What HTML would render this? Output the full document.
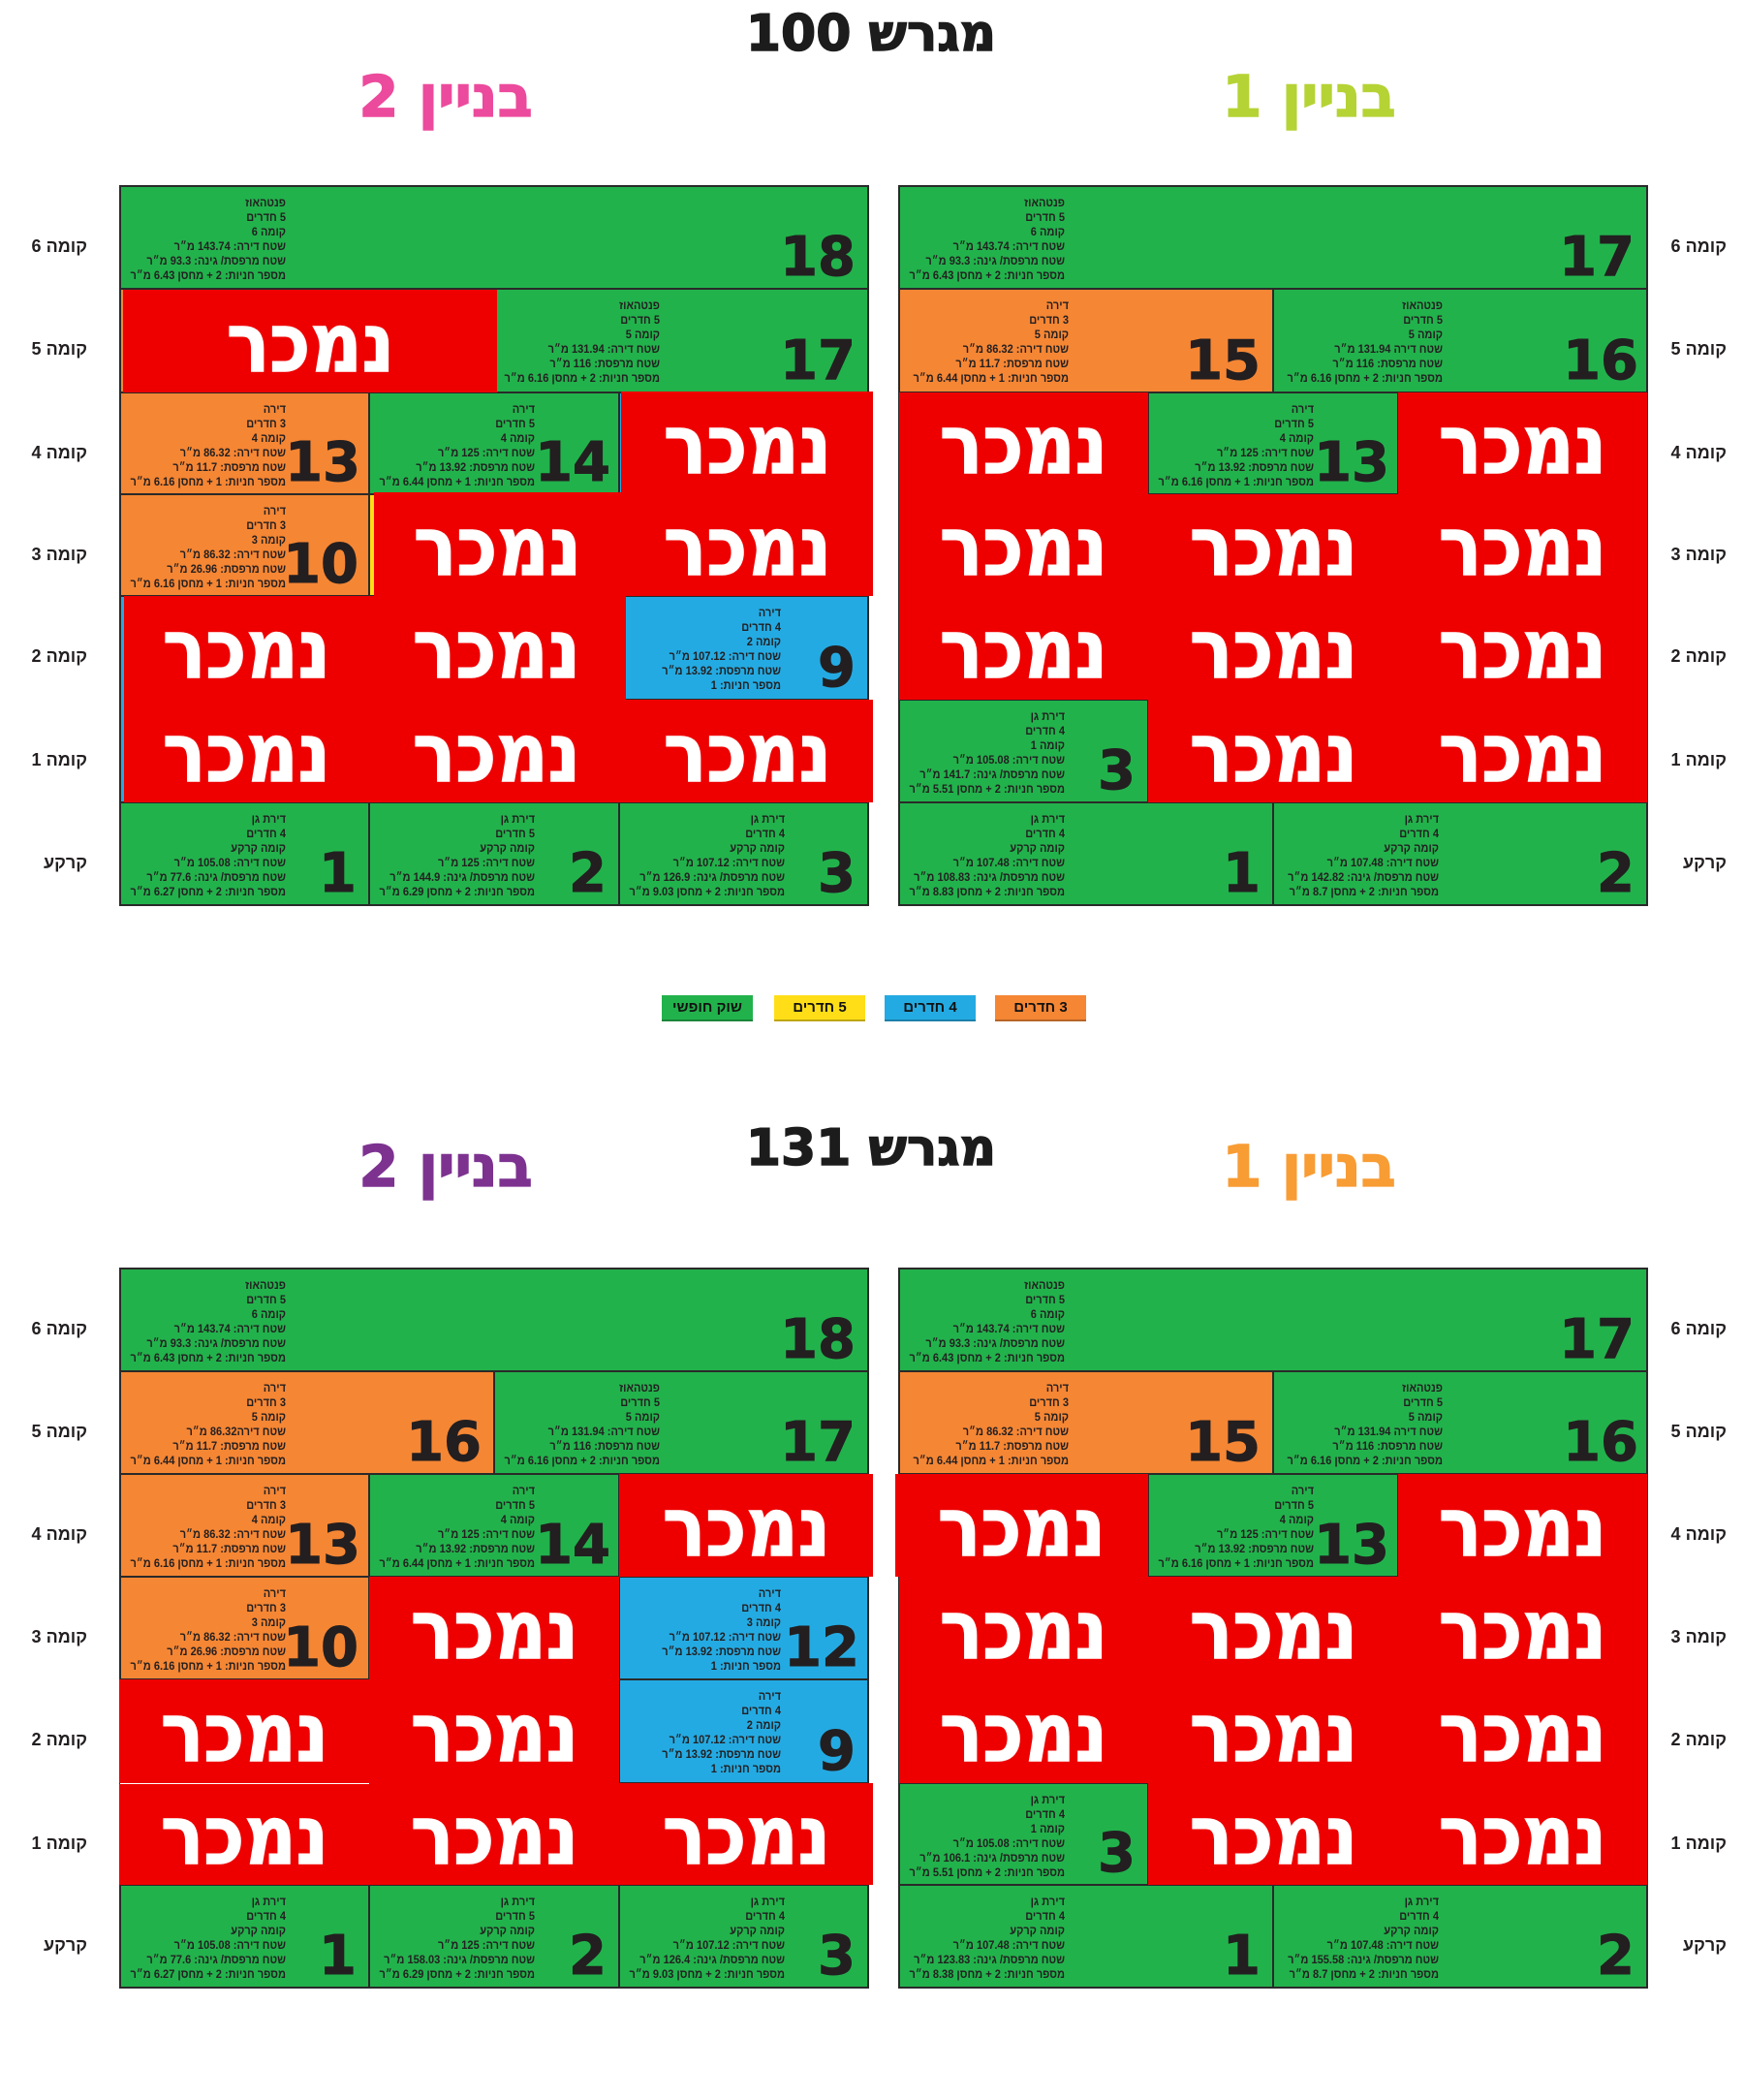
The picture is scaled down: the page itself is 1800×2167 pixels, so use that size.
<!DOCTYPE html>
<html lang="he">
<head>
<meta charset="utf-8">
<style>
html,body{margin:0;padding:0;background:#fff;}
body{width:1800px;height:2167px;position:relative;overflow:hidden;font-family:"Liberation Sans","DejaVu Sans",sans-serif;}
.c{position:absolute;box-sizing:border-box;border:1px solid #2a2a2a;}
.g{background:#22b24c}.o{background:#f58634}.b{background:#24aae2}.y{background:#ffde17}
.r{position:absolute;background:#ee0000;}
.fr{position:absolute;box-sizing:border-box;border:1px solid #2a2a2a;}
.t{position:absolute;top:9px;left:0;width:170px;text-align:right;direction:rtl;font:bold 12px/15px "Liberation Sans","DejaVu Sans",sans-serif;color:#231f20;white-space:nowrap;transform:scaleX(0.92);transform-origin:right top;}
.n{position:absolute;right:12px;bottom:3px;font:bold 56px/1 "DejaVu Sans",sans-serif;color:#231f20;-webkit-text-stroke:1px #231f20;}
.st{position:absolute;display:flex;align-items:center;justify-content:center;color:#fff;direction:rtl;padding-top:3px;box-sizing:border-box;}
.st span{display:inline-block;font:bold 84px/1 "DejaVu Sans",sans-serif;transform:scaleX(0.88);-webkit-text-stroke:1.5px #fff;}
.lb{position:absolute;width:80px;height:24px;line-height:24px;text-align:right;direction:rtl;font:bold 18px "Liberation Sans","DejaVu Sans",sans-serif;color:#231f20;white-space:nowrap;}
.h{position:absolute;text-align:center;direction:rtl;font-family:"DejaVu Sans",sans-serif;font-weight:bold;line-height:1;white-space:nowrap;}
.lg{position:absolute;top:1027px;width:94px;height:27px;box-sizing:border-box;border-bottom:2px solid rgba(0,0,0,0.25);text-align:center;direction:rtl;font:bold 15px/26px "Liberation Sans","DejaVu Sans",sans-serif;color:#111;}
</style>
</head>
<body>

<!-- Titles -->
<div class="h" style="left:599px;width:600px;top:9px;font-size:52px;color:#1c1c1c;-webkit-text-stroke:1.5px #1c1c1c;">מגרש 100</div>
<div class="h" style="left:260px;width:400px;top:70px;font-size:59px;color:#ec4a9c;-webkit-text-stroke:1.5px #ec4a9c;">בניין 2</div>
<div class="h" style="left:1151px;width:400px;top:70px;font-size:59px;color:#b5d334;-webkit-text-stroke:1.5px #b5d334;">בניין 1</div>

<div class="h" style="left:599px;width:600px;top:1159px;font-size:52px;color:#1c1c1c;-webkit-text-stroke:1.5px #1c1c1c;">מגרש 131</div>
<div class="h" style="left:260px;width:400px;top:1174px;font-size:59px;color:#7d3290;-webkit-text-stroke:1.5px #7d3290;">בניין 2</div>
<div class="h" style="left:1151px;width:400px;top:1174px;font-size:59px;color:#f89c34;-webkit-text-stroke:1.5px #f89c34;">בניין 1</div>

<!-- Floor labels top -->
<div class="lb" style="left:10px;top:244px">קומה 6</div>
<div class="lb" style="left:10px;top:350px">קומה 5</div>
<div class="lb" style="left:10px;top:457px">קומה 4</div>
<div class="lb" style="left:10px;top:562px">קומה 3</div>
<div class="lb" style="left:10px;top:667px">קומה 2</div>
<div class="lb" style="left:10px;top:774px">קומה 1</div>
<div class="lb" style="left:10px;top:880px">קרקע</div>
<div class="lb" style="left:1702px;top:244px">קומה 6</div>
<div class="lb" style="left:1702px;top:350px">קומה 5</div>
<div class="lb" style="left:1702px;top:457px">קומה 4</div>
<div class="lb" style="left:1702px;top:562px">קומה 3</div>
<div class="lb" style="left:1702px;top:667px">קומה 2</div>
<div class="lb" style="left:1702px;top:774px">קומה 1</div>
<div class="lb" style="left:1702px;top:880px">קרקע</div>

<!-- Floor labels bottom -->
<div class="lb" style="left:10px;top:1361px">קומה 6</div>
<div class="lb" style="left:10px;top:1467px">קומה 5</div>
<div class="lb" style="left:10px;top:1573px">קומה 4</div>
<div class="lb" style="left:10px;top:1679px">קומה 3</div>
<div class="lb" style="left:10px;top:1785px">קומה 2</div>
<div class="lb" style="left:10px;top:1892px">קומה 1</div>
<div class="lb" style="left:10px;top:1997px">קרקע</div>
<div class="lb" style="left:1702px;top:1361px">קומה 6</div>
<div class="lb" style="left:1702px;top:1467px">קומה 5</div>
<div class="lb" style="left:1702px;top:1573px">קומה 4</div>
<div class="lb" style="left:1702px;top:1679px">קומה 3</div>
<div class="lb" style="left:1702px;top:1785px">קומה 2</div>
<div class="lb" style="left:1702px;top:1892px">קומה 1</div>
<div class="lb" style="left:1702px;top:1997px">קרקע</div>

<!-- Legend -->
<div class="lg g" style="left:683px">שוק חופשי</div>
<div class="lg y" style="left:799px">5 חדרים</div>
<div class="lg b" style="left:913px">4 חדרים</div>
<div class="lg o" style="left:1027px">3 חדרים</div>

<!-- ===== GRID A: plot 100, building 2 ===== -->
<div class="c g" style="left:124px;top:192px;width:772px;height:106px"><div class="t">פנטהאוז<br>5 חדרים<br>קומה 6<br>שטח דירה: 143.74 מ״ר<br>שטח מרפסת/ גינה: 93.3 מ״ר<br>מספר חניות: 2 + מחסן 6.43 מ״ר</div><div class="n">18</div></div>
<div class="c o" style="left:124px;top:298px;width:386px;height:107px"></div>
<div class="c g" style="left:510px;top:298px;width:386px;height:107px"><div class="t">פנטהאוז<br>5 חדרים<br>קומה 5<br>שטח דירה: 131.94 מ״ר<br>שטח מרפסת: 116 מ״ר<br>מספר חניות: 2 + מחסן 6.16 מ״ר</div><div class="n">17</div></div>
<div class="c o" style="left:124px;top:405px;width:257px;height:105px"><div class="t">דירה<br>3 חדרים<br>קומה 4<br>שטח דירה: 86.32 מ״ר<br>שטח מרפסת: 11.7 מ״ר<br>מספר חניות: 1 + מחסן 6.16 מ״ר</div><div class="n" style="right:8px">13</div></div>
<div class="c g" style="left:381px;top:405px;width:258px;height:105px"><div class="t">דירה<br>5 חדרים<br>קומה 4<br>שטח דירה: 125 מ״ר<br>שטח מרפסת: 13.92 מ״ר<br>מספר חניות: 1 + מחסן 6.44 מ״ר</div><div class="n" style="right:8px">14</div></div>
<div class="c b" style="left:639px;top:405px;width:257px;height:210px"></div>
<div class="c o" style="left:124px;top:510px;width:257px;height:105px"><div class="t">דירה<br>3 חדרים<br>קומה 3<br>שטח דירה: 86.32 מ״ר<br>שטח מרפסת: 26.96 מ״ר<br>מספר חניות: 1 + מחסן 6.16 מ״ר</div><div class="n" style="right:10px">10</div></div>
<div class="c y" style="left:381px;top:510px;width:258px;height:105px"></div>
<div class="c b" style="left:124px;top:615px;width:522px;height:213px"></div>
<div class="c b" style="left:639px;top:615px;width:257px;height:107px"><div class="t" style="left:-4px">דירה<br>4 חדרים<br>קומה 2<br>שטח דירה: 107.12 מ״ר<br>שטח מרפסת: 13.92 מ״ר<br>מספר חניות: 1</div><div class="n">9</div></div>
<div class="c g" style="left:124px;top:828px;width:257px;height:106px"><div class="t">דירת גן<br>4 חדרים<br>קומה קרקע<br>שטח דירה: 105.08 מ״ר<br>שטח מרפסת/ גינה: 77.6 מ״ר<br>מספר חניות: 2 + מחסן 6.27 מ״ר</div><div class="n">1</div></div>
<div class="c g" style="left:381px;top:828px;width:258px;height:106px"><div class="t">דירת גן<br>5 חדרים<br>קומה קרקע<br>שטח דירה: 125 מ״ר<br>שטח מרפסת/ גינה: 144.9 מ״ר<br>מספר חניות: 2 + מחסן 6.29 מ״ר</div><div class="n">2</div></div>
<div class="c g" style="left:639px;top:828px;width:257px;height:106px"><div class="t">דירת גן<br>4 חדרים<br>קומה קרקע<br>שטח דירה: 107.12 מ״ר<br>שטח מרפסת/ גינה: 126.9 מ״ר<br>מספר חניות: 2 + מחסן 9.03 מ״ר</div><div class="n">3</div></div>
<div class="fr" style="left:123px;top:191px;width:774px;height:744px"></div>
<div class="r" style="left:127px;top:299px;width:386px;height:106px"></div>
<div class="r" style="left:641px;top:404px;width:260px;height:211px"></div>
<div class="r" style="left:386px;top:508px;width:255px;height:107px"></div>
<div class="r" style="left:128px;top:615px;width:518px;height:107px"></div>
<div class="r" style="left:128px;top:722px;width:773px;height:106px"></div>
<div class="st" style="left:127px;top:299px;width:386px;height:106px"><span>נמכר</span></div>
<div class="st" style="left:641px;top:405px;width:260px;height:105px"><span>נמכר</span></div>
<div class="st" style="left:641px;top:510px;width:260px;height:105px"><span>נמכר</span></div>
<div class="st" style="left:386px;top:510px;width:255px;height:105px"><span>נמכר</span></div>
<div class="st" style="left:126px;top:615px;width:257px;height:107px"><span>נמכר</span></div>
<div class="st" style="left:383px;top:615px;width:258px;height:107px"><span>נמכר</span></div>
<div class="st" style="left:126px;top:722px;width:257px;height:106px"><span>נמכר</span></div>
<div class="st" style="left:383px;top:722px;width:258px;height:106px"><span>נמכר</span></div>
<div class="st" style="left:641px;top:722px;width:260px;height:106px"><span>נמכר</span></div>

<!-- ===== GRID B: plot 100, building 1 ===== -->
<div class="c g" style="left:928px;top:192px;width:772px;height:106px"><div class="t">פנטהאוז<br>5 חדרים<br>קומה 6<br>שטח דירה: 143.74 מ״ר<br>שטח מרפסת/ גינה: 93.3 מ״ר<br>מספר חניות: 2 + מחסן 6.43 מ״ר</div><div class="n">17</div></div>
<div class="c o" style="left:928px;top:298px;width:386px;height:107px"><div class="t" style="left:4px">דירה<br>3 חדרים<br>קומה 5<br>שטח דירה: 86.32 מ״ר<br>שטח מרפסת: 11.7 מ״ר<br>מספר חניות: 1 + מחסן 6.44 מ״ר</div><div class="n">15</div></div>
<div class="c g" style="left:1314px;top:298px;width:386px;height:107px"><div class="t" style="left:4px">פנטהאוז<br>5 חדרים<br>קומה 5<br>שטח דירה 131.94 מ״ר<br>שטח מרפסת: 116 מ״ר<br>מספר חניות: 2 + מחסן 6.16 מ״ר</div><div class="n" style="right:8px">16</div></div>
<div class="c g" style="left:928px;top:828px;width:386px;height:106px"><div class="t">דירת גן<br>4 חדרים<br>קומה קרקע<br>שטח דירה: 107.48 מ״ר<br>שטח מרפסת/ גינה: 108.83 מ״ר<br>מספר חניות: 2 + מחסן 8.83 מ״ר</div><div class="n">1</div></div>
<div class="c g" style="left:1314px;top:828px;width:386px;height:106px"><div class="t">דירת גן<br>4 חדרים<br>קומה קרקע<br>שטח דירה: 107.48 מ״ר<br>שטח מרפסת/ גינה: 142.82 מ״ר<br>מספר חניות: 2 + מחסן 8.7 מ״ר</div><div class="n">2</div></div>
<div class="fr" style="left:927px;top:191px;width:774px;height:744px"></div>
<div class="r" style="left:928px;top:405px;width:772px;height:423px"></div>
<div class="c g" style="left:1185px;top:405px;width:258px;height:105px"><div class="t">דירה<br>5 חדרים<br>קומה 4<br>שטח דירה: 125 מ״ר<br>שטח מרפסת: 13.92 מ״ר<br>מספר חניות: 1 + מחסן 6.16 מ״ר</div><div class="n" style="right:8px">13</div></div>
<div class="c g" style="left:928px;top:722px;width:257px;height:106px"><div class="t">דירת גן<br>4 חדרים<br>קומה 1<br>שטח דירה: 105.08 מ״ר<br>שטח מרפסת/ גינה: 141.7 מ״ר<br>מספר חניות: 2 + מחסן 5.51 מ״ר</div><div class="n">3</div></div>
<div class="st" style="left:928px;top:405px;width:257px;height:105px"><span>נמכר</span></div>
<div class="st" style="left:1443px;top:405px;width:257px;height:105px"><span>נמכר</span></div>
<div class="st" style="left:928px;top:510px;width:257px;height:105px"><span>נמכר</span></div>
<div class="st" style="left:1185px;top:510px;width:258px;height:105px"><span>נמכר</span></div>
<div class="st" style="left:1443px;top:510px;width:257px;height:105px"><span>נמכר</span></div>
<div class="st" style="left:928px;top:615px;width:257px;height:107px"><span>נמכר</span></div>
<div class="st" style="left:1185px;top:615px;width:258px;height:107px"><span>נמכר</span></div>
<div class="st" style="left:1443px;top:615px;width:257px;height:107px"><span>נמכר</span></div>
<div class="st" style="left:1185px;top:722px;width:258px;height:106px"><span>נמכר</span></div>
<div class="st" style="left:1443px;top:722px;width:257px;height:106px"><span>נמכר</span></div>

<!-- ===== GRID C: plot 131, building 2 ===== -->
<div class="c g" style="left:124px;top:1309px;width:772px;height:106px"><div class="t">פנטהאוז<br>5 חדרים<br>קומה 6<br>שטח דירה: 143.74 מ״ר<br>שטח מרפסת/ גינה: 93.3 מ״ר<br>מספר חניות: 2 + מחסן 6.43 מ״ר</div><div class="n">18</div></div>
<div class="c o" style="left:124px;top:1415px;width:386px;height:106px"><div class="t">דירה<br>3 חדרים<br>קומה 5<br>שטח דירה86.32 מ״ר<br>שטח מרפסת: 11.7 מ״ר<br>מספר חניות: 1 + מחסן 6.44 מ״ר</div><div class="n">16</div></div>
<div class="c g" style="left:510px;top:1415px;width:386px;height:106px"><div class="t">פנטהאוז<br>5 חדרים<br>קומה 5<br>שטח דירה: 131.94 מ״ר<br>שטח מרפסת: 116 מ״ר<br>מספר חניות: 2 + מחסן 6.16 מ״ר</div><div class="n">17</div></div>
<div class="c o" style="left:124px;top:1521px;width:257px;height:106px"><div class="t">דירה<br>3 חדרים<br>קומה 4<br>שטח דירה: 86.32 מ״ר<br>שטח מרפסת: 11.7 מ״ר<br>מספר חניות: 1 + מחסן 6.16 מ״ר</div><div class="n" style="right:8px">13</div></div>
<div class="c g" style="left:381px;top:1521px;width:258px;height:106px"><div class="t">דירה<br>5 חדרים<br>קומה 4<br>שטח דירה: 125 מ״ר<br>שטח מרפסת: 13.92 מ״ר<br>מספר חניות: 1 + מחסן 6.44 מ״ר</div><div class="n" style="right:8px">14</div></div>
<div class="c o" style="left:124px;top:1627px;width:257px;height:106px"><div class="t">דירה<br>3 חדרים<br>קומה 3<br>שטח דירה: 86.32 מ״ר<br>שטח מרפסת: 26.96 מ״ר<br>מספר חניות: 1 + מחסן 6.16 מ״ר</div><div class="n" style="right:10px">10</div></div>
<div class="c b" style="left:639px;top:1627px;width:257px;height:106px"><div class="t" style="left:-4px">דירה<br>4 חדרים<br>קומה 3<br>שטח דירה: 107.12 מ״ר<br>שטח מרפסת: 13.92 מ״ר<br>מספר חניות: 1</div><div class="n" style="right:8px">12</div></div>
<div class="c b" style="left:639px;top:1733px;width:257px;height:107px"><div class="t" style="left:-4px">דירה<br>4 חדרים<br>קומה 2<br>שטח דירה: 107.12 מ״ר<br>שטח מרפסת: 13.92 מ״ר<br>מספר חניות: 1</div><div class="n">9</div></div>
<div class="c g" style="left:124px;top:1945px;width:257px;height:106px"><div class="t">דירת גן<br>4 חדרים<br>קומה קרקע<br>שטח דירה: 105.08 מ״ר<br>שטח מרפסת/ גינה: 77.6 מ״ר<br>מספר חניות: 2 + מחסן 6.27 מ״ר</div><div class="n">1</div></div>
<div class="c g" style="left:381px;top:1945px;width:258px;height:106px"><div class="t">דירת גן<br>5 חדרים<br>קומה קרקע<br>שטח דירה: 125 מ״ר<br>שטח מרפסת/ גינה: 158.03 מ״ר<br>מספר חניות: 2 + מחסן 6.29 מ״ר</div><div class="n">2</div></div>
<div class="c g" style="left:639px;top:1945px;width:257px;height:106px"><div class="t">דירת גן<br>4 חדרים<br>קומה קרקע<br>שטח דירה: 107.12 מ״ר<br>שטח מרפסת/ גינה: 126.4 מ״ר<br>מספר חניות: 2 + מחסן 9.03 מ״ר</div><div class="n">3</div></div>
<div class="fr" style="left:123px;top:1308px;width:774px;height:744px"></div>
<div class="r" style="left:639px;top:1521px;width:262px;height:106px"></div>
<div class="r" style="left:381px;top:1627px;width:258px;height:318px"></div>
<div class="r" style="left:123px;top:1733px;width:258px;height:107px"></div>
<div class="r" style="left:123px;top:1841px;width:258px;height:104px"></div>
<div class="r" style="left:639px;top:1840px;width:262px;height:105px"></div>
<div class="st" style="left:639px;top:1521px;width:262px;height:106px"><span>נמכר</span></div>
<div class="st" style="left:381px;top:1627px;width:258px;height:106px"><span>נמכר</span></div>
<div class="st" style="left:123px;top:1733px;width:258px;height:107px"><span>נמכר</span></div>
<div class="st" style="left:381px;top:1733px;width:258px;height:107px"><span>נמכר</span></div>
<div class="st" style="left:123px;top:1840px;width:258px;height:105px"><span>נמכר</span></div>
<div class="st" style="left:381px;top:1840px;width:258px;height:105px"><span>נמכר</span></div>
<div class="st" style="left:639px;top:1840px;width:262px;height:105px"><span>נמכר</span></div>

<!-- ===== GRID D: plot 131, building 1 ===== -->
<div class="c g" style="left:928px;top:1309px;width:772px;height:106px"><div class="t">פנטהאוז<br>5 חדרים<br>קומה 6<br>שטח דירה: 143.74 מ״ר<br>שטח מרפסת/ גינה: 93.3 מ״ר<br>מספר חניות: 2 + מחסן 6.43 מ״ר</div><div class="n">17</div></div>
<div class="c o" style="left:928px;top:1415px;width:386px;height:106px"><div class="t" style="left:4px">דירה<br>3 חדרים<br>קומה 5<br>שטח דירה: 86.32 מ״ר<br>שטח מרפסת: 11.7 מ״ר<br>מספר חניות: 1 + מחסן 6.44 מ״ר</div><div class="n">15</div></div>
<div class="c g" style="left:1314px;top:1415px;width:386px;height:106px"><div class="t" style="left:4px">פנטהאוז<br>5 חדרים<br>קומה 5<br>שטח דירה 131.94 מ״ר<br>שטח מרפסת: 116 מ״ר<br>מספר חניות: 2 + מחסן 6.16 מ״ר</div><div class="n" style="right:8px">16</div></div>
<div class="c g" style="left:1185px;top:1521px;width:258px;height:106px"><div class="t">דירה<br>5 חדרים<br>קומה 4<br>שטח דירה: 125 מ״ר<br>שטח מרפסת: 13.92 מ״ר<br>מספר חניות: 1 + מחסן 6.16 מ״ר</div><div class="n" style="right:8px">13</div></div>
<div class="c g" style="left:928px;top:1945px;width:386px;height:106px"><div class="t">דירת גן<br>4 חדרים<br>קומה קרקע<br>שטח דירה: 107.48 מ״ר<br>שטח מרפסת/ גינה: 123.83 מ״ר<br>מספר חניות: 2 + מחסן 8.38 מ״ר</div><div class="n">1</div></div>
<div class="c g" style="left:1314px;top:1945px;width:386px;height:106px"><div class="t">דירת גן<br>4 חדרים<br>קומה קרקע<br>שטח דירה: 107.48 מ״ר<br>שטח מרפסת/ גינה: 155.58 מ״ר<br>מספר חניות: 2 + מחסן 8.7 מ״ר</div><div class="n">2</div></div>
<div class="fr" style="left:927px;top:1308px;width:774px;height:744px"></div>
<div class="r" style="left:924px;top:1521px;width:261px;height:106px"></div>
<div class="r" style="left:1443px;top:1521px;width:257px;height:106px"></div>
<div class="r" style="left:928px;top:1627px;width:772px;height:318px"></div>
<div class="c g" style="left:928px;top:1840px;width:257px;height:105px"><div class="t">דירת גן<br>4 חדרים<br>קומה 1<br>שטח דירה: 105.08 מ״ר<br>שטח מרפסת/ גינה: 106.1 מ״ר<br>מספר חניות: 2 + מחסן 5.51 מ״ר</div><div class="n">3</div></div>
<div class="st" style="left:924px;top:1521px;width:261px;height:106px"><span>נמכר</span></div>
<div class="st" style="left:1443px;top:1521px;width:257px;height:106px"><span>נמכר</span></div>
<div class="st" style="left:928px;top:1627px;width:257px;height:106px"><span>נמכר</span></div>
<div class="st" style="left:1185px;top:1627px;width:258px;height:106px"><span>נמכר</span></div>
<div class="st" style="left:1443px;top:1627px;width:257px;height:106px"><span>נמכר</span></div>
<div class="st" style="left:928px;top:1733px;width:257px;height:107px"><span>נמכר</span></div>
<div class="st" style="left:1185px;top:1733px;width:258px;height:107px"><span>נמכר</span></div>
<div class="st" style="left:1443px;top:1733px;width:257px;height:107px"><span>נמכר</span></div>
<div class="st" style="left:1185px;top:1840px;width:258px;height:105px"><span>נמכר</span></div>
<div class="st" style="left:1443px;top:1840px;width:257px;height:105px"><span>נמכר</span></div>

</body>
</html>
